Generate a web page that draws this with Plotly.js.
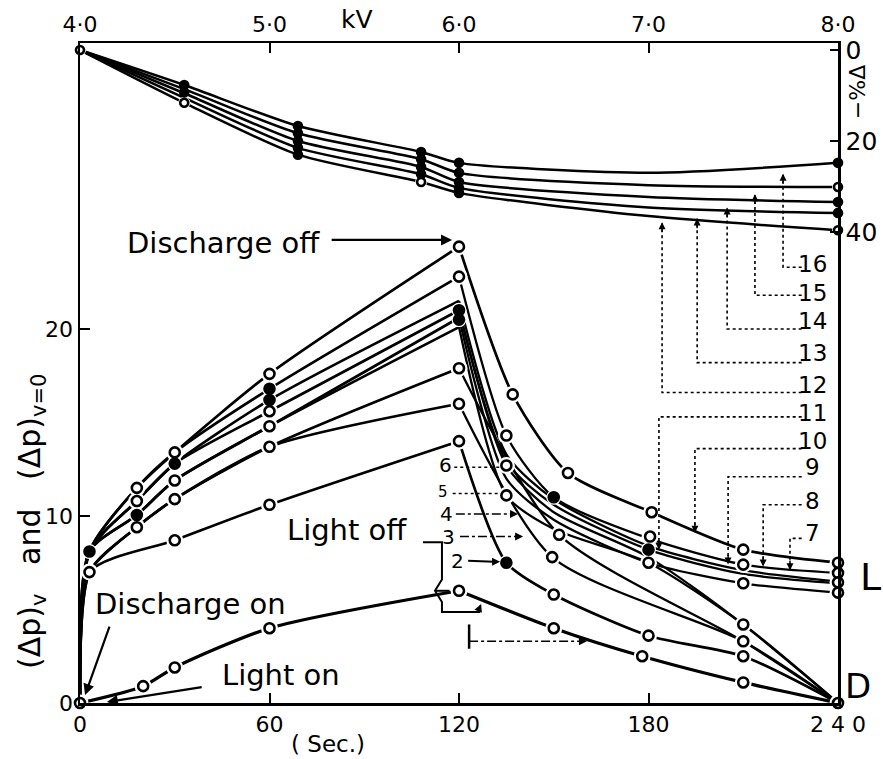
<!DOCTYPE html>
<html>
<head>
<meta charset="utf-8">
<script src="https://cdn.plot.ly/plotly-3.0.1.min.js"></script>
<style>html,body{margin:0;padding:0;background:#fff;}#chart{width:883px;height:759px;}</style>
</head>
<body>
<div id="chart"></div>
<script>
// ---------- DATA ----------
// growth phase (time in sec, value of (Δp))
const growthT = [0, 3, 18, 30, 60, 120];
const growth1 = [0, 8.1, 11.5, 13.4, 17.6, 24.4];
const growth2 = [0, 8.1, 11.5, 13.4, 16.8, 22.8];
const growth3 = [0, 8.1, 10.8, 12.8, 16.2, 21.5];
const growth4 = [0, 8.1, 10.8, 12.8, 15.6, 21.0];
const growth5 = [0, 8.1, 10.05, 11.9, 14.8, 20.6];
const growth6 = [0, 8.1, 10.05, 11.9, 14.8, 20.1];
const growth7 = [0, 7.0, 9.4, 10.9, 13.7, 17.9];
const growth8 = [0, 7.0, 9.4, 10.9, 13.7, 16.0];
const growth9T = [0, 3, 30, 60, 120];
const growth9 = [0, 7.0, 8.7, 10.6, 14.0];
const lightT = [0, 20, 30, 60, 120];
const lightV = [0, 0.9, 1.9, 4.0, 6.0];

// decay phase ending at L
const decayT = [120, 135, 150, 180, 210, 240];
const decayL1T = [120, 137, 154.5, 181, 210, 240];
const decayL1 = [24.4, 16.5, 12.3, 10.2, 8.2, 7.5];
const decayL2 = [22.8, 14.3, 11.0, 8.8, 7.4, 6.95];
const decayL3 = [21.5, 13.3, 10.9, 8.4, 7.1, 6.5];
const decayL4 = [21.0, 12.9, 10.6, 8.2, 6.9, 6.4];
const decayL5 = [20.6, 12.0, 9.8, 7.5, 6.4, 5.9];
// decay phase ending at D
const decayD1T = [120, 150, 178, 210, 240];
const decayD1 = [6.0, 4.0, 2.5, 1.1, 0];
const decayD2 = [14.0, 7.5, 5.8, 3.6, 2.5, 0];
const decayD3T = [120, 149.5, 210, 240];
const decayD3 = [16.0, 7.8, 3.3, 0];
const decayD4T = [120, 151.7, 210, 240];
const decayD4 = [17.9, 9.0, 3.3, 0];
const decayD5 = [20.1, 11.1, 9.3, 7.5, 4.2, 0];
const decayD6 = [21.0, 12.7, 10.2, 7.8, 4.2, 0];

// plotted circles (open / filled), time and value
const openT = [0, 3, 18, 18, 18, 20, 30, 30, 30, 30, 30, 60, 60, 60, 60, 60, 60,
  120, 120, 120, 120, 120, 120, 137, 135, 135, 135, 154.5, 151.7, 149.5, 150, 150,
  181, 180.5, 180, 180, 178, 210, 210, 210, 210, 210, 210, 210, 240, 240, 240, 240, 240];
const openV = [0, 7.0, 11.5, 10.8, 9.4, 0.9, 13.4, 11.9, 10.9, 8.7, 1.9, 17.6, 15.6, 14.8, 13.7, 10.6, 4.0,
  24.4, 22.8, 17.9, 16.0, 14.0, 6.0, 16.5, 14.3, 12.7, 11.1, 12.3, 9.0, 7.8, 5.8, 4.0,
  10.2, 8.9, 7.5, 3.6, 2.5, 8.2, 7.4, 6.4, 4.2, 3.3, 2.5, 1.1, 7.5, 6.95, 6.45, 5.9, 0];
const filledT = [3, 18, 30, 60, 60, 120, 120, 150, 180, 135];
const filledV = [8.1, 10.05, 12.8, 16.8, 16.2, 21.0, 20.5, 11.0, 8.2, 7.5];

// upper family: kV vs -Δ%
const kV = [4.0, 4.55, 5.15, 5.8, 6.0, 7.0, 8.0];
const pct16 = [0, 7.7, 16.7, 22.4, 24.8, 27.0, 24.8];
const pct15 = [0, 8.6, 18.3, 24.0, 27.0, 29.7, 30.1];
const pct14 = [0, 9.5, 20.0, 25.7, 29.0, 32.3, 33.4];
const pct13 = [0, 10.5, 21.5, 27.3, 30.3, 34.6, 35.8];
const pct12 = [0, 11.6, 23.0, 29.0, 31.4, 36.5, 39.6];
const topOpenKV = [4.0, 4.55, 5.8, 8.0, 8.0];
const topOpenPct = [0, 11.6, 29.0, 30.1, 39.6];
const topFilledKV = [4.55, 4.55, 5.15, 5.15, 5.15, 5.15, 5.15, 5.8, 5.8, 5.8, 5.8, 6.0, 6.0, 6.0, 6.0, 6.0, 8.0, 8.0, 8.0];
const topFilledPct = [7.7, 9.3, 16.7, 18.3, 20.0, 21.5, 23.0, 22.4, 24.0, 25.7, 27.3, 24.8, 27.0, 29.0, 30.3, 31.4, 24.8, 33.4, 35.8];

// tick labels
const bottomTicks = [0, 60, 120, 180, 240];
const bottomTickText = ['0', '60', '120', '180', '2 4 0'];
const leftTicks = [0, 10, 20];
const topTicks = [4, 5, 6, 7, 8];
const topTickText = ['4·0', '5·0', '6·0', '7·0', '8·0'];
const rightTicks = [0, 20, 40];

// ---------- BUILD ----------
const FONT = 'DejaVu Sans, Liberation Sans, sans-serif';
const traces = [];
function curve(x, y, axes, w) {
  const t = {x: x, y: y, mode: 'lines', hoverinfo: 'skip', showlegend: false,
    line: {color: '#000', width: w || 2.7, shape: 'spline', smoothing: 0.7}};
  if (axes) { t.xaxis = 'x2'; t.yaxis = 'y2'; }
  traces.push(t);
}
[growth1, growth2, growth3, growth4, growth5, growth6, growth7, growth8].forEach(g => curve(growthT, g));
curve(growth9T, growth9);
curve(lightT, lightV, false, 3.2);
curve(decayL1T, decayL1);
[decayL2, decayL3, decayL4, decayL5].forEach(d => curve(decayT, d, false, 2.3));
curve(decayD1T, decayD1, false, 3.2);
curve(decayT, decayD2);
curve(decayD3T, decayD3, false, 2.3);
curve(decayD4T, decayD4, false, 2.3);
curve(decayT, decayD5, false, 2.3);
curve(decayT, decayD6, false, 2.3);
[pct16, pct15, pct14, pct13, pct12].forEach(p => curve(kV, p, true, 2.5));

function markers(x, y, axes, fill, size, gap) {
  const t = {x: x, y: y, mode: 'markers', hoverinfo: 'skip', showlegend: false, cliponaxis: false,
    marker: gap ? {size: size, color: '#fff', line: {width: 0}}
                : {size: size, color: fill ? '#000' : '#fff', line: {color: '#000', width: 2.6}}};
  if (axes) { t.xaxis = 'x2'; t.yaxis = 'y2'; }
  traces.push(t);
}
// white gaps around circles
markers(openT, openV, false, false, 17, true);
markers(filledT, filledV, false, false, 15, true);
markers(topOpenKV, topOpenPct, true, false, 12, true);
markers(openT, openV, false, false, 10);
markers(filledT, filledV, false, true, 10);
markers(topFilledKV, topFilledPct, true, true, 8);
markers(topOpenKV, topOpenPct, true, false, 8);

// ---------- ANNOTATIONS / LEADERS ----------
const ann = [];
function txt(text, x, y, size, extra) {
  ann.push(Object.assign({text: text, x: x, y: y, xref: 'x', yref: 'y', showarrow: false,
    xanchor: 'center', yanchor: 'middle',
    font: {family: FONT, size: size, color: '#000'}}, extra || {}));
}
function ptxt(text, x, y, size, extra) {
  ann.push(Object.assign({text: text, x: x, y: y, xref: 'paper', yref: 'paper', showarrow: false,
    xanchor: 'center', yanchor: 'middle',
    font: {family: FONT, size: size, color: '#000'}}, extra || {}));
}
function arrow(x, y, ax, ay, w) {
  ann.push({text: '', x: x, y: y, ax: ax, ay: ay, xref: 'x', yref: 'y', axref: 'x', ayref: 'y',
    showarrow: true, arrowhead: 2, arrowsize: 1, arrowwidth: w || 1.6, arrowcolor: '#000'});
}
txt('Discharge off', 45.5, 24.6, 29);
arrow(117.8, 24.76, 79.2, 24.76, 2.2);
txt('Discharge on', 35.1, 5.3, 29);
arrow(1.6, 0.43, 9.5, 4.17, 2.2);
txt('Light on', 63.6, 1.5, 29);
arrow(8.5, 0.05, 39, 0.86, 2.2);
txt('Light off', 84.5, 9.25, 29);
ptxt('kV', 0.3654, 1.035, 25);
ptxt('( Sec.)', 0.327, -0.062, 23);
ptxt('L', 1.043, 0.191, 38);
ptxt('D', 1.027, 0.026, 34);
ptxt('−%Δ', 1.026, 0.925, 22, {textangle: -90});
ptxt('(Δp)<sub>v</sub>   and   (Δp)<sub>v=0</sub>', -0.064, 0.275, 30, {textangle: -90});

const leftLabels = ['6', '5', '4', '3', '2'];
const leftLabelX = [115.6, 114.8, 115.9, 116.6, 119.4];
const leftLabelY = [12.7, 11.3, 10.1, 8.9, 7.6];
leftLabels.forEach((l, i) => txt(l, leftLabelX[i], leftLabelY[i], i === 1 ? 15 : 20));
const rightLabels = ['16', '15', '14', '13', '12', '11', '10', '9', '8', '7'];
const rightLabelY = [23.5, 21.9, 20.4, 18.7, 17.0, 15.5, 14.0, 12.6, 10.8, 9.1];
rightLabels.forEach((l, i) => txt(l, 232, rightLabelY[i], 23));

const shapes = [];
function path(d, dash, w) {
  shapes.push({type: 'path', path: d, xref: 'x', yref: 'y', line: {color: '#000', width: w || 1.5, dash: dash || 'solid'}});
}
// left leaders 1-6
path('M 118.5,12.6 L 133,12.6', 'dot');
path('M 118,11.2 L 133,11.2', 'dot');
path('M 119,10.1 L 137,10.1', 'dashdot');
arrow(138.7, 10.1, 136.5, 10.1);
path('M 120.3,8.9 L 138,8.9', 'dashdot');
arrow(140.3, 8.9, 138, 8.9);
path('M 122.9,7.6 L 131,7.55', 'solid', 2);
arrow(133, 7.55, 131, 7.55);
path('M 123.2,4.2 L 123.2,2.9', 'solid', 2.5);
path('M 123.2,3.3 L 158,3.3', 'dashdot');
arrow(160.5, 3.3, 158, 3.3);
// light off bracket
path('M 108.6,8.6 L 114.6,8.6 L 114.6,6.6 L 112.4,6.0 L 114.6,5.4 L 114.6,4.87 L 126.7,4.87', 'solid', 2);
path('M 112.4,6.0 L 117,6.0', 'solid', 2);
arrow(127, 5.3, 126, 4.87);
// right leaders 7-16
const rx = [222.6, 213.7, 204.9, 195.4, 184.3, 183.3, 194.7, 205.2, 216.3, 224.8];
const ry = [23.3, 21.8, 20.0, 18.2, 16.6, 15.3, 13.6, 12.1, 10.6, 8.8];
const rtip = [28.3, 27.2, 26.5, 25.9, 25.7, 8.2, 9.1, 7.4, 7.3, 7.1];
rx.forEach((x, i) => {
  path('M 228.5,' + ry[i] + ' L ' + x + ',' + ry[i] + ' L ' + x + ',' + rtip[i], 'dot', 1.6);
  const up = rtip[i] > ry[i];
  arrow(x, rtip[i], x, rtip[i] + (up ? -0.6 : 0.6), 1.4);
});

const layout = {
  width: 883, height: 759,
  margin: {l: 80, r: 45, t: 43, b: 56, pad: 0},
  paper_bgcolor: '#fff', plot_bgcolor: '#fff',
  showlegend: false,
  font: {family: FONT, size: 22, color: '#000'},
  xaxis: {range: [0, 240], tickvals: bottomTicks, ticktext: bottomTickText, ticks: 'inside', ticklen: 10,
    tickwidth: 2, tickcolor: '#000', showline: true, linewidth: 2.5, linecolor: '#000', showgrid: false,
    zeroline: false, tickfont: {family: FONT, size: 22}, fixedrange: true},
  yaxis: {range: [0, 35.29], tickvals: leftTicks, ticks: 'inside', ticklen: 10, tickwidth: 2, tickcolor: '#000',
    showline: true, linewidth: 2.5, linecolor: '#000', showgrid: false, zeroline: false,
    tickfont: {family: FONT, size: 22}, fixedrange: true},
  xaxis2: {overlaying: 'x', side: 'top', range: [4, 8], tickvals: topTicks, ticktext: topTickText, ticks: 'inside',
    ticklen: 10, tickwidth: 2, tickcolor: '#000', showline: true, linewidth: 2.5, linecolor: '#000',
    showgrid: false, zeroline: false, tickfont: {family: FONT, size: 22}, fixedrange: true},
  yaxis2: {overlaying: 'y', side: 'right', range: [143.5, -1.54], tickvals: rightTicks, ticks: 'inside',
    ticklen: 8, tickwidth: 2, tickcolor: '#000', showline: true, linewidth: 2.5, linecolor: '#000',
    showgrid: false, zeroline: false, tickfont: {family: FONT, size: 25}, fixedrange: true},
  annotations: ann,
  shapes: shapes
};
Plotly.newPlot('chart', traces, layout, {staticPlot: true, displayModeBar: false});
</script>
</body>
</html>
